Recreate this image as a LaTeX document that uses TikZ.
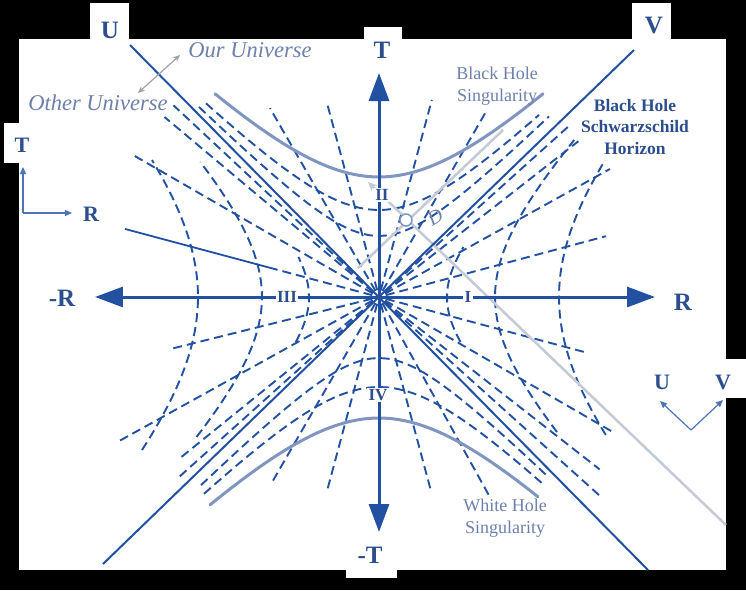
\documentclass[tikz,border=0pt]{standalone}
\usepackage{fontspec}
\setmainfont{Liberation Serif}
\usetikzlibrary{arrows.meta}
\definecolor{mylinecolor}{HTML}{2251A2}
\definecolor{mylabelcolor}{HTML}{2C4E8E}
\definecolor{mysingcolor}{HTML}{8095BF}
\definecolor{myraycolor}{HTML}{C4CBD7}
\definecolor{mysoftcolor}{HTML}{6D80AC}
\definecolor{myarrowcolor}{HTML}{4D74B6}
\tikzset{%
  mydash/.style={draw=mylinecolor, line width=1.9pt, dash pattern=on 9pt off 5pt},%
  myray/.style={mydash, shorten <=7pt},%
  myline/.style={draw=mylinecolor, line width=2pt},%
  myaxis/.style={draw=mylinecolor, line width=3pt, {Triangle[length=28pt,width=20pt]}-{Triangle[length=28pt,width=20pt]}},%
  mysing/.style={draw=mysingcolor, line width=3pt, line cap=round},%
  mylight/.style={draw=myraycolor, line width=2.5pt},%
  mysmallarrow/.style={draw=myarrowcolor, line width=1.2pt, -{Triangle[length=7pt,width=6pt]}},%
  mybig/.style={text=mylabelcolor, inner sep=1pt, font=\fontsize{25pt}{25pt}\selectfont\bfseries},%
  mymid/.style={text=mylabelcolor, inner sep=1pt, font=\fontsize{22pt}{22pt}\selectfont\bfseries},%
  myregion/.style={text=mylabelcolor, fill=white, inner sep=1.5pt, font=\fontsize{17pt}{17pt}\selectfont\bfseries},%
  mynote/.style={text=mysoftcolor, align=center, font=\fontsize{18pt}{22pt}\selectfont},%
  myitalic/.style={text=mysoftcolor, inner sep=1pt, font=\fontsize{22.5pt}{22.5pt}\selectfont\itshape},%
}

\begin{document}
\begin{tikzpicture}[x=1pt, y=1pt]%
\fill[black] (-379,-293) rectangle (367,297);%
\useasboundingbox (-379,-293) rectangle (367,297);%
\fill[white] (-360,-273) rectangle (347,258);%
\fill[white] (-289,258) rectangle (-250,294);%
\fill[white] (253,258) rectangle (292,294);%
\fill[white] (-15,258) rectangle (23,270);%
\fill[white] (-375,134) rectangle (-359,174);%
\fill[white] (346,-101) rectangle (367,-62);%
\fill[white] (-33,-281) rectangle (18,-272);%
\coordinate (O) at (0,0);%
% constant t rays, regions I and III
\draw[myray] (O) -- ++(15:235);%
\draw[myray] (O) -- ++(29:264);%
\draw[myray] (O) -- ++(38:253);%
\draw[myray] (O) -- ++(42:258);%
\draw[myray] (O) -- ++(-15:216);%
\draw[myray] (O) -- ++(-30:268);%
\draw[myray] (O) -- ++(-38:280);%
\draw[myray] (O) -- ++(-42:296);%
\draw[myray] (O) -- ++(165:110);%
\draw[myline, line width=1.8pt] (O) ++(165:110) -- ++(165:153);%
\draw[myray] (O) -- ++(150:286);%
\draw[myray] (O) -- ++(140:280);%
\draw[myray] (O) -- ++(137:281);%
\draw[myray] (O) -- ++(194:213);%
\draw[myray] (O) -- ++(209:298);%
\draw[myray] (O) -- ++(219:257);%
\draw[myray] (O) -- ++(222:270);%
% constant t rays, regions II and IV
\draw[myray] (O) -- ++(60:215);%
\draw[myray] (O) -- ++(75:204);%
\draw[myray] (O) -- ++(105:200);%
\draw[myray] (O) -- ++(120:218);%
\draw[myray] (O) -- ++(240:216);%
\draw[myray] (O) -- ++(255:202);%
\draw[myray] (O) -- ++(285:198);%
\draw[myray] (O) -- ++(299:230);%
% constant r hyperbolas
\draw[mydash] plot[domain=-45:50, samples=20] ({100*sqrt(0.68^2+(\x/100)^2)}, \x);%
\draw[mydash] plot[domain=-135:157, samples=40] ({100*sqrt(1.16^2+(\x/100)^2)}, \x);%
\draw[mydash] plot[domain=-138:137, samples=40] ({100*sqrt(1.8^2+(\x/100)^2)}, \x);%
\draw[mydash] plot[domain=-45:40, samples=20] ({-100*sqrt(0.7^2+(\x/100)^2)}, \x);%
\draw[mydash] plot[domain=-140:135, samples=40] ({-100*sqrt(1.17^2+(\x/100)^2)}, \x);%
\draw[mydash] plot[domain=-153:137, samples=40] ({-100*sqrt(1.81^2+(\x/100)^2)}, \x);%
\draw[mydash] plot[domain=-180:170, samples=40] (\x, {100*sqrt(0.61^2+(\x/100)^2)});%
\draw[mydash] plot[domain=-173:160, samples=40] (\x, {100*sqrt(0.87^2+(\x/100)^2)});%
\draw[mydash] plot[domain=-178:170, samples=40] (\x, {-100*sqrt(0.61^2+(\x/100)^2)});%
\draw[mydash] plot[domain=-175:165, samples=40] (\x, {-100*sqrt(0.9^2+(\x/100)^2)});%
% singularities
\draw[mysing] plot[domain=-164:164, samples=50] (\x, {100*sqrt(1.2^2+(\x/100)^2)});%
\draw[mysing] plot[domain=-169:159, samples=50] (\x, {-100*sqrt(1.21^2+(\x/100)^2)});%
% infalling light rays
\coordinate (mylightA) at (-21,29);%
\coordinate (mylightB) at (124,167);%
\coordinate (mylightC) at (347,-228);%
\coordinate (mylightD) at (-11,115);%
\draw[mylight] (mylightA) -- (mylightB);%
\draw[mylight, -{Stealth[length=9pt,width=8pt]}] (mylightC) -- (mylightD);%
\node[draw=mysingcolor, fill=white, line width=1.5pt, circle, minimum size=12pt, inner sep=0pt] (myobserver) at (27,77) {};%
\node[text=mysoftcolor, rotate=30, font=\fontsize{20pt}{20pt}\selectfont\itshape] (myobsname) at (56,80) {D};%
% horizons
\coordinate (myUtop) at (-249,252);%
\coordinate (myUbot) at (269,-273);%
\coordinate (myVtop) at (255,247);%
\coordinate (myVbot) at (-276,-267);%
\draw[myline] (myUtop) -- (myUbot);%
\draw[myline] (myVtop) -- (myVbot);%
% axes
\coordinate (myRpos) at (276,0);%
\coordinate (myRneg) at (-284,0);%
\coordinate (myTpos) at (0,224);%
\coordinate (myTneg) at (0,-235);%
\draw[myaxis] (myRneg) -- (myRpos);%
\draw[myaxis] (myTneg) -- (myTpos);%
\node[myregion] (myregionI) at (89,0) {I};%
\node[myregion] (myregionII) at (3,102) {II};%
\node[myregion] (myregionIII) at (-92,0) {III};%
\node[myregion] (myregionIV) at (-1,-98) {IV};%
\node[mybig] (mylabelU) at (-269,267) {U};%
\node[mybig] (mylabelV) at (275,271) {V};%
\node[mybig] (mylabelT) at (3,247) {T};%
\node[mybig] (mylabelmT) at (-9,-258) {-T};%
\node[mybig] (mylabelR) at (304,-5) {R};%
\node[mybig] (mylabelmR) at (-317,-1) {-R};%
% small frames
\coordinate (myframeO) at (-356,84);%
\coordinate (myframeT) at (-356,130);%
\coordinate (myframeR) at (-307,84);%
\draw[mysmallarrow] (myframeO) -- (myframeT);%
\draw[mysmallarrow] (myframeO) -- (myframeR);%
\node[mymid] (mysmallT) at (-357,152) {T};%
\node[mymid] (mysmallR) at (-288,83) {R};%
\coordinate (mynullO) at (312,-133);%
\coordinate (mynullU) at (281,-104);%
\coordinate (mynullV) at (344,-103);%
\draw[mysmallarrow] (mynullO) -- (mynullU);%
\draw[mysmallarrow] (mynullO) -- (mynullV);%
\node[mymid] (mysmallU) at (283,-85) {U};%
\node[mymid] (mysmallV) at (344,-85) {V};%
% notes
\node[myitalic] (myours) at (-129,247) {Our Universe};%
\node[myitalic] (myother) at (-281,194) {Other Universe};%
\coordinate (myunivA) at (-241,204);%
\coordinate (myunivB) at (-199,242);%
\draw[draw=myraycolor!80!black, line width=1.2pt, {Stealth[length=7pt,width=6pt]}-{Stealth[length=7pt,width=6pt]}] (myunivA) -- (myunivB);%
\node[mynote] (myblacksing) at (118,211) {Black Hole\\Singularity};%
\node[mynote] (mywhitesing) at (126,-221) {White Hole\\Singularity};%
\node[text=mylabelcolor, align=center, font=\fontsize{17.5pt}{21.5pt}\selectfont\bfseries] (myhorizon) at (256,170) {Black Hole\\Schwarzschild\\Horizon};%
\end{tikzpicture}
\end{document}
